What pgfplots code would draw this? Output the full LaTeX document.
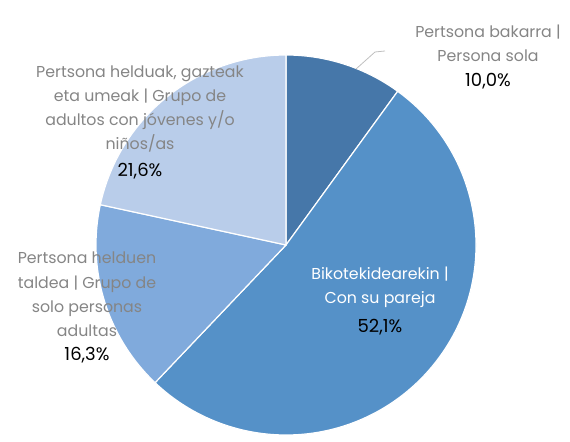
\documentclass[border=0pt]{standalone}
\usepackage{pgfplots}
\pgfplotsset{compat=1.18}
\usepackage{fontspec}
\setmainfont{Poppins}
\definecolor{s1}{HTML}{4677A9}
\definecolor{s2}{HTML}{5591C8}
\definecolor{s3}{HTML}{80AADC}
\definecolor{s4}{HTML}{B9CDEA}
\definecolor{lbl}{HTML}{858585}
\definecolor{lead}{HTML}{BFBFBF}
\tikzset{lab/.style={font=\fontsize{15.8}{24.3}\selectfont, align=center, text=lbl, inner sep=0pt},
  pct/.style={lab, font=\fontsize{18}{24}\selectfont, text=black}}
% shares (%)
\def\va{10.0}\def\vb{52.1}\def\vc{16.3}\def\vd{21.6}
\pgfmathsetmacro\aA{90}
\pgfmathsetmacro\aB{\aA-3.6*\va}
\pgfmathsetmacro\aC{\aB-3.6*\vb}
\pgfmathsetmacro\aD{\aC-3.6*\vc}
\pgfmathsetmacro\aE{\aD-3.6*\vd}
\def\cx{286}\def\cy{191}\def\rr{190}
\newcommand\slice[3]{%
  \fill[#3,draw=white,line width=1.2pt] (axis cs:\cx,\cy) -- (axis cs:{\cx+\rr*cos(#1)},{\cy+\rr*sin(#1)})
    arc[start angle=#1,end angle=#2,radius=\rr pt] -- cycle;}
\begin{document}
\begin{tikzpicture}
\begin{axis}[hide axis, x=1pt, y=1pt, xmin=0, xmax=570, ymin=0, ymax=436,
  clip=false, scale only axis]
\slice{\aA}{\aB}{s1}
\slice{\aB}{\aC}{s2}
\slice{\aC}{\aD}{s3}
\slice{\aD}{\aE}{s4}
\draw[lead,line width=0.8pt] (axis cs:356,367) -- (axis cs:375,384) -- (axis cs:385,385);
\node[lab] at (axis cs:488,393) {Pertsona bakarra |\\Persona sola};
\node[pct] at (axis cs:488,355) {10,0\%};
\node[lab] at (axis cs:140,327) {Pertsona helduak, gazteak\\eta umeak | Grupo de\\adultos con jóvenes y/o\\niños/as};
\node[pct] at (axis cs:140,265) {21,6\%};
\node[lab] at (axis cs:87,141.5) {Pertsona helduen\\taldea | Grupo de\\solo personas\\adultas};
\node[pct] at (axis cs:87,81) {16,3\%};
\node[lab,text=white] at (axis cs:380,149) {Bikotekidearekin |\\Con su pareja};
\node[pct] at (axis cs:380,109) {52,1\%};
\path (axis cs:0,0) rectangle (axis cs:570,436);
\end{axis}
\end{tikzpicture}
\end{document}
